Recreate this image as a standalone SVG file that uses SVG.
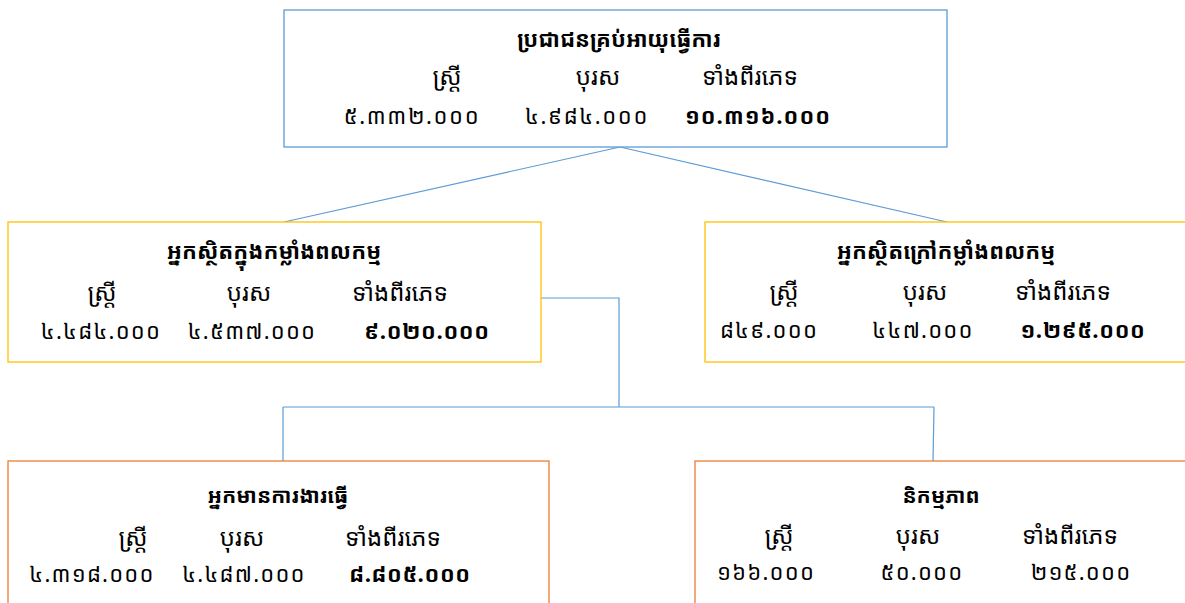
<svg xmlns="http://www.w3.org/2000/svg" width="1185" height="603" viewBox="0 0 1185 603">
<style>
text{font-family:"Noto Sans Khmer","Khmer OS","Noto Serif Khmer","Noto Sans",sans-serif;text-anchor:middle;fill:#000}
.t{font-size:22px;font-weight:bold}
.t2{font-size:21px;font-weight:bold}
.l{font-size:24px}
.n{font-size:22px;letter-spacing:1.2px}
.b{font-weight:bold;letter-spacing:0.6px}
.bx{fill:#fff;stroke-width:1.3}
.blue{stroke:#5b9bd5}
.yel{stroke:#ffc000}
.org{stroke:#ed7d31}
.c{fill:none;stroke:#5b9bd5;stroke-width:1.2}
</style>
<rect width="1185" height="603" fill="#fff"/>
<g id="connectors">
<line class="c" x1="620" y1="147" x2="284" y2="222"/>
<line class="c" x1="620" y1="147" x2="947" y2="222"/>
<polyline class="c" points="541,298 619,298 619,407"/>
<line class="c" x1="283" y1="407" x2="934" y2="407"/>
<line class="c" x1="283" y1="407" x2="283" y2="461"/>
<line class="c" x1="934" y1="407" x2="933" y2="461"/>
</g>
<g id="node-top">
<rect class="bx blue" x="284" y="10" width="663" height="137"/>
<text class="t" x="619" y="47">ប្រជាជនគ្រប់អាយុធ្វើការ</text>
<text class="l" x="447" y="85">ស្ត្រី</text>
<text class="l" x="598" y="85">បុរស</text>
<text class="l" x="750" y="85">ទាំងពីរភេទ</text>
<text class="n" x="412" y="124" style="letter-spacing:1.6px">៥.៣៣២.០០០</text>
<text class="n" x="587" y="124" style="letter-spacing:1.6px">៤.៩៨៤.០០០</text>
<text class="n b" x="758" y="124" style="letter-spacing:1px">១០.៣១៦.០០០</text>
</g>
<g id="node-in-labour">
<rect class="bx yel" x="8" y="222" width="533" height="140"/>
<text class="t" x="274" y="259">អ្នកស្ថិតក្នុងកម្លាំងពលកម្ម</text>
<text class="l" x="102" y="301">ស្ត្រី</text>
<text class="l" x="249" y="301">បុរស</text>
<text class="l" x="400" y="301">ទាំងពីរភេទ</text>
<text class="n" x="101" y="339">៤.៤៨៤.០០០</text>
<text class="n" x="252" y="339">៤.៥៣៧.០០០</text>
<text class="n b" x="427" y="339">៩.០២០.០០០</text>
</g>
<g id="node-out-labour">
<rect class="bx yel" x="705" y="222" width="490" height="140"/>
<text class="t" x="946" y="259">អ្នកស្ថិតក្រៅកម្លាំងពលកម្ម</text>
<text class="l" x="784" y="300">ស្ត្រី</text>
<text class="l" x="925" y="300">បុរស</text>
<text class="l" x="1063" y="300">ទាំងពីរភេទ</text>
<text class="n" x="769" y="338">៨៤៩.០០០</text>
<text class="n" x="923" y="338">៤៤៧.០០០</text>
<text class="n b" x="1083" y="338">១.២៩៥.០០០</text>
</g>
<g id="node-employed">
<rect class="bx org" x="8" y="461" width="541" height="160"/>
<text class="t2" x="278" y="503">អ្នកមានការងារធ្វើ</text>
<text class="l" x="133" y="546">ស្ត្រី</text>
<text class="l" x="242" y="546">បុរស</text>
<text class="l" x="393" y="546">ទាំងពីរភេទ</text>
<text class="n" x="92" y="582">៤.៣១៨.០០០</text>
<text class="n" x="244" y="582">៤.៤៨៧.០០០</text>
<text class="n b" x="410" y="582">៨.៨០៥.០០០</text>
</g>
<g id="node-unemployed">
<rect class="bx org" x="695" y="461" width="500" height="160"/>
<text class="t2" x="941" y="503">និកម្មភាព</text>
<text class="l" x="779" y="544">ស្ត្រី</text>
<text class="l" x="918" y="544">បុរស</text>
<text class="l" x="1070" y="544">ទាំងពីរភេទ</text>
<text class="n" x="766" y="580">១៦៦.០០០</text>
<text class="n" x="922" y="580">៥០.០០០</text>
<text class="n" x="1081" y="580">២១៥.០០០</text>
</g>
</svg>
